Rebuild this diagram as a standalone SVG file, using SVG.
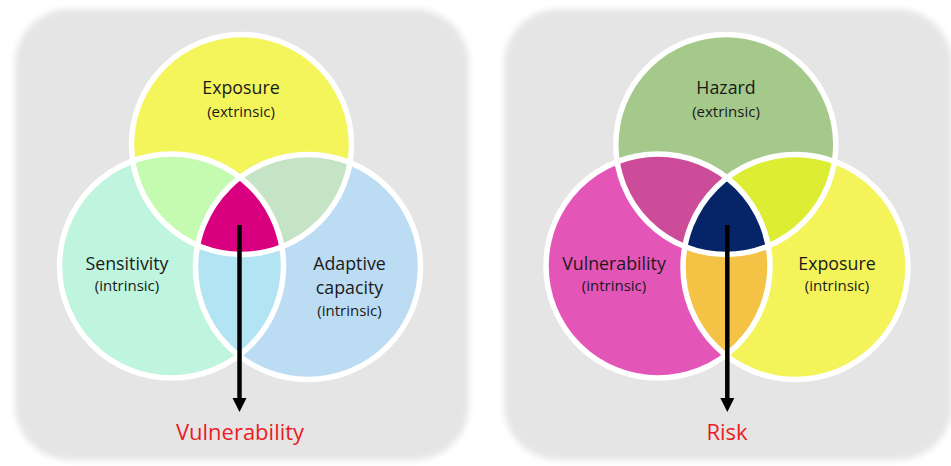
<svg xmlns="http://www.w3.org/2000/svg" width="951" height="466" viewBox="0 0 951 466">
<style>
.lbl{font-family:"Open Sans","Noto Sans","Liberation Sans",sans-serif;font-size:17.8px;fill:#1a1a1a;text-anchor:middle}
.sub{font-family:"Open Sans","Noto Sans","Liberation Sans",sans-serif;font-size:15px;fill:#1a1a1a;text-anchor:middle}
.out{font-family:"Open Sans","Noto Sans","Liberation Sans",sans-serif;font-size:22px;fill:#ec1c24;text-anchor:middle}
.ring{fill:none;stroke:#ffffff;stroke-width:5.5}
.panel{fill:#e5e5e5}
.arrow{stroke:#000;stroke-width:4.5;fill:none}
.head{fill:#000}
</style>
<defs>
<filter id="soft" x="-10%" y="-10%" width="120%" height="120%"><feGaussianBlur stdDeviation="3"/></filter>
<clipPath id="lT"><circle cx="241.5" cy="144.5" r="110"/></clipPath>
<clipPath id="lL"><circle cx="171.5" cy="266" r="112"/></clipPath>
<clipPath id="lTL" clip-path="url(#lT)"><circle cx="171.5" cy="266" r="112"/></clipPath>
<clipPath id="rT"><circle cx="725.8" cy="144.5" r="110"/></clipPath>
<clipPath id="rL"><circle cx="658" cy="266" r="112"/></clipPath>
<clipPath id="rTL" clip-path="url(#rT)"><circle cx="658" cy="266" r="112"/></clipPath>
</defs>
<rect width="951" height="466" fill="#ffffff"/>
<g id="panels" filter="url(#soft)">
<rect class="panel" x="15" y="9" width="454" height="451" rx="55"/>
<rect class="panel" x="504" y="9" width="448" height="451" rx="55"/>
</g>

<!-- Left diagram -->
<g id="left-fills">
<circle cx="241.5" cy="144.5" r="110" fill="#f4f45b"/>
<circle cx="171.5" cy="266" r="112" fill="#bff4df"/>
<circle cx="308" cy="267" r="112.5" fill="#bcdcf4"/>
<circle cx="171.5" cy="266" r="112" fill="#c4fbb0" clip-path="url(#lT)"/>
<circle cx="308" cy="267" r="112.5" fill="#c5e3c5" clip-path="url(#lT)"/>
<circle cx="308" cy="267" r="112.5" fill="#b2e4f4" clip-path="url(#lL)"/>
<circle cx="308" cy="267" r="112.5" fill="#d9007f" clip-path="url(#lTL)"/>
</g>
<g id="left-rings">
<circle class="ring" cx="241.5" cy="144.5" r="110"/>
<circle class="ring" cx="171.5" cy="266" r="112"/>
<circle class="ring" cx="308" cy="267" r="112.5"/>
</g>
<g id="exposure-l">
<text class="lbl" x="241" y="94">Exposure</text>
<text class="sub" x="241" y="117">(extrinsic)</text>
</g>
<g id="sensitivity">
<text class="lbl" x="127" y="270">Sensitivity</text>
<text class="sub" x="127" y="291">(intrinsic)</text>
</g>
<g id="adaptive">
<text class="lbl" x="349.5" y="270">Adaptive</text>
<text class="lbl" x="349.5" y="294">capacity</text>
<text class="sub" x="349.5" y="316">(intrinsic)</text>
</g>
<g id="vulnerability-out">
<text class="out" x="240" y="440">Vulnerability</text>
</g>

<!-- Right diagram -->
<g id="right-fills">
<circle cx="725.8" cy="144.5" r="110" fill="#a4c98a"/>
<circle cx="658" cy="266" r="112" fill="#e455b8"/>
<circle cx="795.5" cy="267" r="112.5" fill="#f4f45a"/>
<circle cx="658" cy="266" r="112" fill="#cc4c99" clip-path="url(#rT)"/>
<circle cx="795.5" cy="267" r="112.5" fill="#dced33" clip-path="url(#rT)"/>
<circle cx="795.5" cy="267" r="112.5" fill="#f4c244" clip-path="url(#rL)"/>
<circle cx="795.5" cy="267" r="112.5" fill="#062468" clip-path="url(#rTL)"/>
</g>
<g id="right-rings">
<circle class="ring" cx="725.8" cy="144.5" r="110"/>
<circle class="ring" cx="658" cy="266" r="112"/>
<circle class="ring" cx="795.5" cy="267" r="112.5"/>
</g>
<g id="hazard">
<text class="lbl" x="726" y="94">Hazard</text>
<text class="sub" x="726" y="117">(extrinsic)</text>
</g>
<g id="vulnerability-r">
<text class="lbl" x="614" y="270">Vulnerability</text>
<text class="sub" x="614" y="291">(intrinsic)</text>
</g>
<g id="exposure-r">
<text class="lbl" x="837" y="270">Exposure</text>
<text class="sub" x="837" y="291">(intrinsic)</text>
</g>
<g id="risk-out">
<text class="out" x="727" y="440">Risk</text>
</g>

<g id="connectors">
<line class="arrow" x1="239.5" y1="225" x2="239.5" y2="400"/>
<polygon class="head" points="232.5,398 246.5,398 239.5,412"/>
<line class="arrow" x1="727.3" y1="225" x2="727.3" y2="400"/>
<polygon class="head" points="720.3,398 734.3,398 727.3,412"/>
</g>
</svg>
